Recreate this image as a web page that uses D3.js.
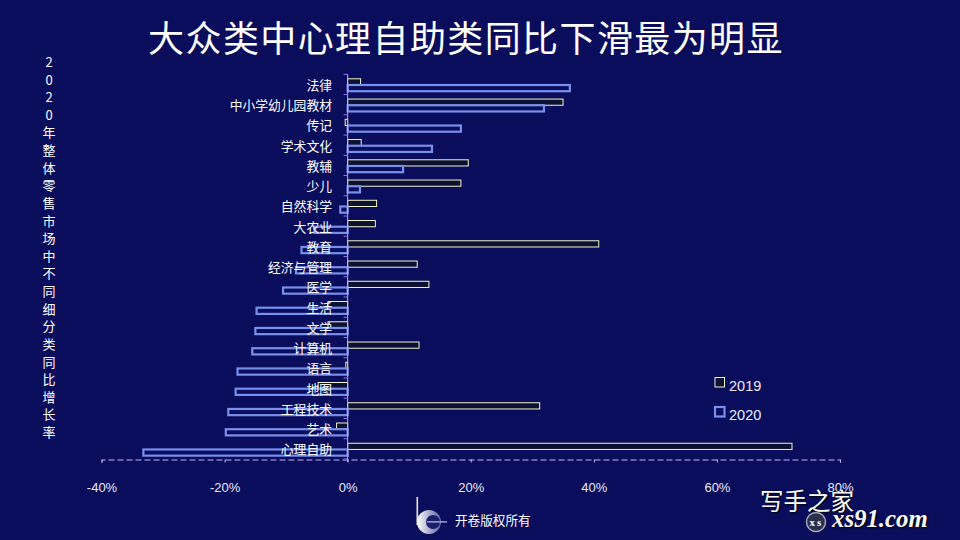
<!DOCTYPE html>
<html>
<head>
<meta charset="utf-8">
<script src="https://cdn.jsdelivr.net/npm/d3@7"></script>
<style>
html, body { margin: 0; padding: 0; background: #0a0d5c; }
svg { display: block; }
text { font-family: "Noto Sans CJK SC", "Liberation Sans", sans-serif; }
</style>
</head>
<body>
<svg id="chart" width="960" height="540"></svg>
<script>
//values, in percent
var categories = ["法律", "中小学幼儿园教材", "传记", "学术文化", "教辅", "少儿", "自然科学", "大农业", "教育", "经济与管理",
    "医学", "生活", "文学", "计算机", "语言", "地图", "工程技术", "艺术", "心理自助"];
var values2019 = [2.1, 35, -0.4, 2.2, 19.6, 18.4, 4.7, 4.5, 40.8, 11.3, 13.2, -3.2, -3.2, 11.6, -0.3, -4.8, 31.2, -1.8, 72.2];
var values2020 = [36.1, 31.9, 18.4, 13.7, 9, 2, -1.2, -5.4, -7.5, -8.4, -10.5, -14.8, -15, -15.5, -17.9, -18.2, -19.4, -19.8, -33.2];
var xTicks = [-40, -20, 0, 20, 40, 60, 80];
var seriesNames = ["2019", "2020"];
var yTitle = "2020年整体零售市场中不同细分类同比增长率";
var title = "大众类中心理自助类同比下滑最为明显";

var bg = "#0a0d5c";
var axisColor = "#c4aefa";
var seriesStyle = {
    "2019": {stroke: "#f2f5c8", width: 1, fill: "#0c1032"},
    "2020": {stroke: "#7890ec", width: 2.2, fill: bg}
};

var svg = d3.select("#chart");
svg.append("rect").attr("width", 960).attr("height", 540).attr("fill", bg);

var x = d3.scaleLinear().domain([-40, 80]).range([101.5, 840]);
var y = d3.scaleBand().domain(categories).range([74.3, 459]);
var ySub = d3.scaleBand().domain(seriesNames).range([4.5, 16.9]);

//title
svg.append("text")
    .attr("x", 466).attr("y", 52)
    .attr("text-anchor", "middle")
    .attr("fill", "#fff")
    .style("font-size", "36px")
    .style("letter-spacing", "1.4px")
    .text(title);

//vertical axis title, one glyph per row
svg.append("g").selectAll("text")
    .data(Array.from(yTitle))
    .enter().append("text")
    .attr("x", 49)
    .attr("y", function(d, i) { return 67 + i * 17.62; })
    .attr("text-anchor", "middle")
    .attr("fill", "#fff")
    .style("font-size", "13px")
    .text(function(d) { return d; });

//bars
function drawBars(name, vals) {
    var s = seriesStyle[name];
    svg.append("g").selectAll("rect")
        .data(vals)
        .enter().append("rect")
        .attr("x", function(d) { return Math.min(x(d), x(0)); })
        .attr("y", function(d, i) { return y(categories[i]) + ySub(name); })
        .attr("width", function(d) { return Math.abs(x(d) - x(0)); })
        .attr("height", ySub.bandwidth())
        .attr("fill", s.fill)
        .attr("stroke", s.stroke)
        .attr("stroke-width", s.width);
}
drawBars("2019", values2019);
drawBars("2020", values2020);

//x axis
var xAxis = d3.axisBottom(x)
    .tickValues(xTicks)
    .tickSize(3)
    .tickPadding(20)
    .tickFormat(function(d) { return d + "%"; });
var gx = svg.append("g").attr("transform", "translate(0,459.5)").call(xAxis);
gx.select(".domain").attr("stroke", axisColor).attr("stroke-dasharray", "6,3");
gx.selectAll(".tick line").attr("stroke", axisColor);
gx.selectAll(".tick text").attr("fill", "#e8e8f6").style("font-size", "13px")
    .style("font-family", "'Liberation Sans', sans-serif");

//y axis line + ticks at band edges, labels go on top of bars
var yEdges = categories.map(function(c) { return y(c); }).concat([y.range()[1]]);
var gy = svg.append("g");
gy.append("line")
    .attr("x1", x(0)).attr("x2", x(0))
    .attr("y1", y.range()[0]).attr("y2", y.range()[1] + 3)
    .attr("stroke", axisColor);
gy.selectAll(".edge").data(yEdges).enter().append("line")
    .attr("class", "edge")
    .attr("x1", x(0) - 4).attr("x2", x(0))
    .attr("y1", function(d) { return d; }).attr("y2", function(d) { return d; })
    .attr("stroke", "#9a70ee");
gy.selectAll(".lab").data(categories).enter().append("text")
    .attr("class", "lab")
    .attr("x", 332)
    .attr("y", function(d) { return y(d) + y.bandwidth() / 2 + 5.5; })
    .attr("text-anchor", "end")
    .attr("fill", "#fff")
    .style("font-size", "12.8px")
    .text(function(d) { return d; });

//legend
var legend = svg.append("g").selectAll("g")
    .data(seriesNames)
    .enter().append("g")
    .attr("transform", function(d, i) { return "translate(715," + (377.5 + i * 29.5) + ")"; });
legend.append("rect")
    .attr("width", 9.5).attr("height", 9.5)
    .attr("fill", function(d) { return seriesStyle[d].fill; })
    .attr("stroke", function(d) { return seriesStyle[d].stroke; })
    .attr("stroke-width", function(d) { return seriesStyle[d].width; });
legend.append("text")
    .attr("x", 14).attr("y", 13)
    .attr("fill", "#eaeaf8")
    .style("font-size", "14.5px")
    .style("font-family", "'Liberation Sans', sans-serif")
    .text(function(d) { return d; });

//logo + copyright
var grad = svg.append("defs").append("linearGradient").attr("id", "logoFade");
grad.append("stop").attr("offset", "0%").attr("stop-color", "#ffffff");
grad.append("stop").attr("offset", "100%").attr("stop-color", "#5a5fa0");
svg.append("rect")
    .attr("x", 416.5).attr("y", 497).attr("width", 1.6).attr("height", 28)
    .attr("fill", "#e8e8f4");
svg.append("circle")
    .attr("cx", 429).attr("cy", 522).attr("r", 12)
    .attr("fill", "url(#logoFade)");
svg.append("circle")
    .attr("cx", 433).attr("cy", 522).attr("r", 7)
    .attr("fill", "#1a1e6c");
svg.append("rect")
    .attr("x", 427).attr("y", 521.3).attr("width", 20).attr("height", 1.2)
    .attr("fill", "#c0c4e8");
svg.append("text")
    .attr("x", 455).attr("y", 525)
    .attr("fill", "#fff")
    .style("font-size", "12.6px")
    .text("开卷版权所有");

//watermark
svg.append("text")
    .attr("x", 760).attr("y", 510)
    .attr("fill", "#fff")
    .style("font-size", "23.5px")
    .style("text-shadow", "1px 1px 2px #000")
    .text("写手之家");
svg.append("circle")
    .attr("cx", 816).attr("cy", 522).attr("r", 9.5)
    .attr("fill", "#2b2f4c").attr("stroke", "#a4a4b0").attr("stroke-width", 1.5);
svg.append("text")
    .attr("x", 816.5).attr("y", 525.5)
    .attr("text-anchor", "middle")
    .attr("fill", "#fff")
    .style("font-family", "'Liberation Serif', serif")
    .style("font-size", "11px")
    .style("font-weight", "bold")
    .style("letter-spacing", "2px")
    .text("xs");
svg.append("text")
    .attr("x", 832).attr("y", 527)
    .attr("fill", "#fff")
    .style("font-family", "'Liberation Serif', serif")
    .style("font-style", "italic")
    .style("font-weight", "bold")
    .style("font-size", "24.8px")
    .style("text-shadow", "1px 1px 2px #000")
    .text("xs91.com");
</script>
</body>
</html>
